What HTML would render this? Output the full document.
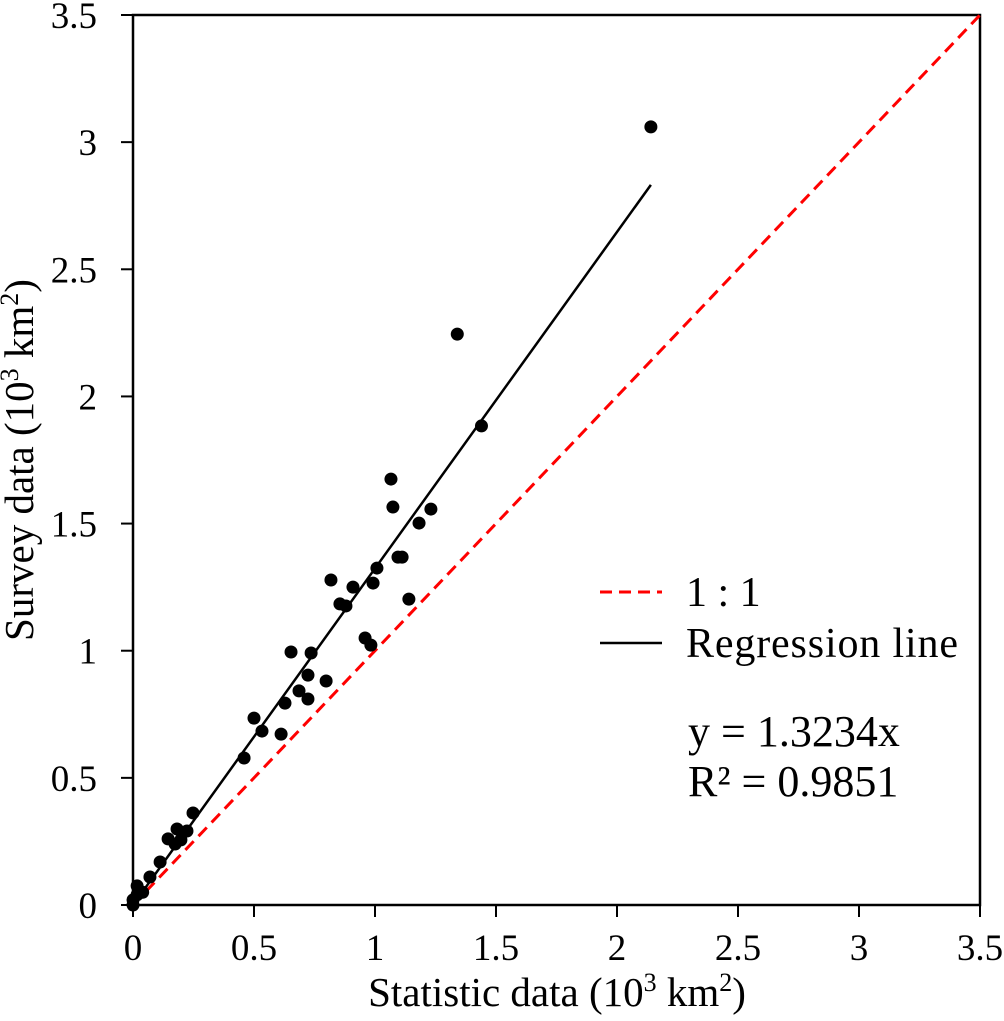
<!DOCTYPE html>
<html><head><meta charset="utf-8"><style>
body{margin:0;background:#fff}
svg text{font-family:"Liberation Serif",serif;fill:#000}
</style></head><body>
<svg id="chart" width="1004" height="1016" xmlns="http://www.w3.org/2000/svg">
<g id="axes"></g><g id="lines"></g><g id="pts"></g>
<g>
<line x1="600" y1="592" x2="662" y2="592" stroke="#f00" stroke-width="3" stroke-dasharray="12,7"/>
<text x="686" y="606" font-size="42">1 : 1</text>
<line x1="600" y1="643" x2="662" y2="643" stroke="#000" stroke-width="2.5"/>
<text x="686" y="657" font-size="42" textLength="272">Regression line</text>
<text x="688" y="746" font-size="44">y = 1.3234x</text>
<text x="688" y="796" font-size="44">R² = 0.9851</text>
</g>
<text x="557" y="1006" font-size="41" text-anchor="middle">Statistic data (10<tspan font-size="26" dy="-15">3</tspan><tspan dy="15"> km</tspan><tspan font-size="26" dy="-15">2</tspan><tspan dy="15">)</tspan></text>
<text transform="translate(33,460) rotate(-90)" font-size="41" text-anchor="middle">Survey data (10<tspan font-size="26" dy="-15">3</tspan><tspan dy="15"> km</tspan><tspan font-size="26" dy="-15">2</tspan><tspan dy="15">)</tspan></text>
</svg>
<script>
const xTicks=[0,0.5,1,1.5,2,2.5,3,3.5];
const xTickLabels=["0","0.5","1","1.5","2","2.5","3","3.5"];
const yTicks=[0,0.5,1,1.5,2,2.5,3,3.5];
const yTickLabels=["0","0.5","1","1.5","2","2.5","3","3.5"];
const statX=[2.14,1.34,1.44,1.066,1.074,1.231,1.182,1.095,1.112,1.008,0.818,0.909,0.992,0.855,0.880,1.140,0.959,0.983,0.653,0.736,0.798,0.686,0.723,0.723,0.628,0.5,0.533,0.612,0.459,0.248,0.223,0.182,0.198,0.145,0.174,0.112,0.07,0.017,0.0,0.017,0.04,0.0];
const surveyY=[3.06,2.245,1.884,1.675,1.565,1.557,1.502,1.368,1.368,1.325,1.278,1.25,1.266,1.184,1.176,1.203,1.05,1.022,0.995,0.991,0.881,0.842,0.904,0.81,0.794,0.735,0.684,0.672,0.578,0.362,0.291,0.299,0.256,0.26,0.24,0.169,0.11,0.075,0.02,0.04,0.05,0.0];
const slope=[1.3234];
const X0=133,X1=980,Y0=905,Y1=15;
const sx=v=>X0+v/3.5*(X1-X0), sy=v=>Y0-v/3.5*(Y0-Y1);
const NS="http://www.w3.org/2000/svg";
function mk(t,a,p){const e=document.createElementNS(NS,t);for(const k in a)e.setAttribute(k,a[k]);p.appendChild(e);return e;}
const ax=document.getElementById('axes');
let f=mk('rect',{x:X0,y:Y1,width:X1-X0,height:Y0-Y1,fill:'none',stroke:'#000','stroke-width':2.5},ax);


xTicks.forEach((v,i)=>{
 let l=mk('line',{x1:sx(v),x2:sx(v),y1:Y0,y2:Y0+12,stroke:'#000','stroke-width':2},ax);
 
 
 let t=mk('text',{x:sx(v),y:Y0+55,'font-size':37,'text-anchor':'middle'},ax);t.textContent=xTickLabels[i];
 
 
});
yTicks.forEach((v,i)=>{
 let l=mk('line',{x1:X0-12,x2:X0,y1:sy(v),y2:sy(v),stroke:'#000','stroke-width':2},ax);
 
 
 let t=mk('text',{x:X0-36,y:sy(v)+13,'font-size':37,'text-anchor':'end'},ax);t.textContent=yTickLabels[i];
 
 
});
const ln=document.getElementById('lines');
let d=mk('line',{x1:sx(0),y1:sy(0),x2:sx(3.5),y2:sy(3.5),stroke:'#f00','stroke-width':3,'stroke-dasharray':'12,7'},ln);


const xm=Math.max(...statX);
let r=mk('line',{x1:sx(0),y1:sy(0),x2:sx(xm),y2:sy(xm*slope[0]),stroke:'#000','stroke-width':2.5},ln);


const pg=document.getElementById('pts');
statX.forEach((v,i)=>{
 let c=mk('circle',{cx:sx(v),cy:sy(surveyY[i]),r:6.5,fill:'#000'},pg);
 
 
});
</script>
</body></html>
